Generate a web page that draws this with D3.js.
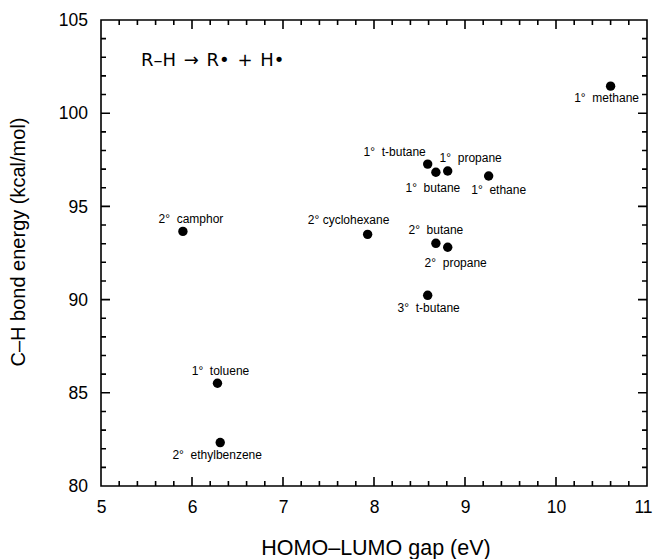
<!DOCTYPE html>
<html>
<head>
<meta charset="utf-8">
<script src="https://cdn.jsdelivr.net/npm/d3@7"></script>
<style>
  html, body { margin: 0; padding: 0; background: #fff; }
  svg { display: block; font-family: "Liberation Sans", Arial, Helvetica, sans-serif; }
</style>
</head>
<body>
<svg id="chart" width="655" height="559"></svg>
<script>
// ---- data ----
const labels = ["1°  methane", "1°  t-butane", "1°  propane", "1°  butane", "1°  ethane",
  "2° cyclohexane", "2°  butane", "2°  propane", "3°  t-butane", "2°  camphor",
  "1°  toluene", "2°  ethylbenzene"];
const gap = [10.60, 8.59, 8.81, 8.68, 9.26, 7.93, 8.68, 8.81, 8.59, 5.90, 6.28, 6.31];
const energy = [101.45, 97.27, 96.90, 96.83, 96.63, 93.50, 93.02, 92.81, 90.23, 93.66, 85.51, 82.33];
const xTicks = [5, 6, 7, 8, 9, 10, 11];
const yTicks = [80, 85, 90, 95, 100, 105];
const xTitle = "HOMO–LUMO gap (eV)";
const yTitle = "C–H bond energy (kcal/mol)";
const note = "R–H → R• + H•";

// label offsets (layout only)
const labelDx = [-4, -33, 23, -3, 10, -19, 0, 8, 1, 8, 3, -3];
const labelDy = [16, -8, -9, 20, 18, -10, -9, 20, 17, -8, -8, 16];

const svg = d3.select("#chart");
const L = 101, R = 647, T = 20, B = 486;
const x = d3.scaleLinear().domain([5, 11]).range([L, R]);
const y = d3.scaleLinear().domain([80, 105]).range([B, T]);

const xMinor = d3.range(5, 11.001, 0.2).map(v => +v.toFixed(1)).filter(v => !xTicks.includes(v));
const yMinor = d3.range(80, 105.001, 1).filter(v => !yTicks.includes(v));

// frame + inward ticks in one path
const MAJ = 9, MIN = 5;
const p = d3.path();
p.rect(L, T, R - L, B - T);
xTicks.forEach(v => { p.moveTo(x(v), B); p.lineTo(x(v), B - MAJ); p.moveTo(x(v), T); p.lineTo(x(v), T + MAJ); });
xMinor.forEach(v => { p.moveTo(x(v), B); p.lineTo(x(v), B - MIN); p.moveTo(x(v), T); p.lineTo(x(v), T + MIN); });
yTicks.forEach(v => { p.moveTo(L, y(v)); p.lineTo(L + MAJ, y(v)); p.moveTo(R, y(v)); p.lineTo(R - MAJ, y(v)); });
yMinor.forEach(v => { p.moveTo(L, y(v)); p.lineTo(L + MIN, y(v)); p.moveTo(R, y(v)); p.lineTo(R - MIN, y(v)); });
svg.append("path").attr("d", p.toString())
  .attr("fill", "none").attr("stroke", "#000").attr("stroke-width", 1.6);

// tick labels via d3 axes (no lines)
svg.append("g").attr("transform", `translate(0,${B})`)
  .call(d3.axisBottom(x).tickValues(xTicks).tickSize(0).tickPadding(15).tickFormat(d3.format("d")))
  .call(g => { g.select(".domain").remove(); g.selectAll("line").remove(); })
  .selectAll("text").attr("font-size", 17.5).attr("fill", "#000")
  .attr("font-family", "Liberation Sans, Arial, sans-serif").attr("dy", "0.71em")
  .attr("dx", d => d === 11 ? -4 : 0);
svg.append("g").attr("transform", `translate(${L},0)`)
  .call(d3.axisLeft(y).tickValues(yTicks).tickSize(0).tickPadding(13).tickFormat(d3.format("d")))
  .call(g => { g.select(".domain").remove(); g.selectAll("line").remove(); })
  .selectAll("text").attr("font-size", 17.5).attr("fill", "#000")
  .attr("font-family", "Liberation Sans, Arial, sans-serif");

// points
const pts = labels.map((d, i) => ({ label: d, gx: gap[i], ey: energy[i], dx: labelDx[i], dy: labelDy[i] }));
svg.append("g").selectAll("circle").data(pts).join("circle")
  .attr("cx", d => x(d.gx)).attr("cy", d => y(d.ey)).attr("r", 4.7).attr("fill", "#000");

svg.append("g").selectAll("text").data(pts).join("text")
  .attr("x", d => x(d.gx) + d.dx).attr("y", d => y(d.ey) + d.dy)
  .attr("text-anchor", "middle").attr("font-size", 12).attr("fill", "#000")
  .style("white-space", "pre")
  .text(d => d.label);

// annotation
svg.append("text").attr("x", 141).attr("y", 66).attr("font-size", 18)
  .attr("font-family", "DejaVu Sans, sans-serif").attr("word-spacing", 2)
  .attr("fill", "#000").text(note);

// axis titles
svg.append("text").attr("x", (L + R) / 2 + 2).attr("y", 555).attr("text-anchor", "middle")
  .attr("font-size", 21.5).attr("fill", "#000").text(xTitle);
svg.append("text").attr("transform", `translate(25,${242}) rotate(-90)`).attr("text-anchor", "middle")
  .attr("font-size", 20).attr("fill", "#000").text(yTitle);
</script>
</body>
</html>
